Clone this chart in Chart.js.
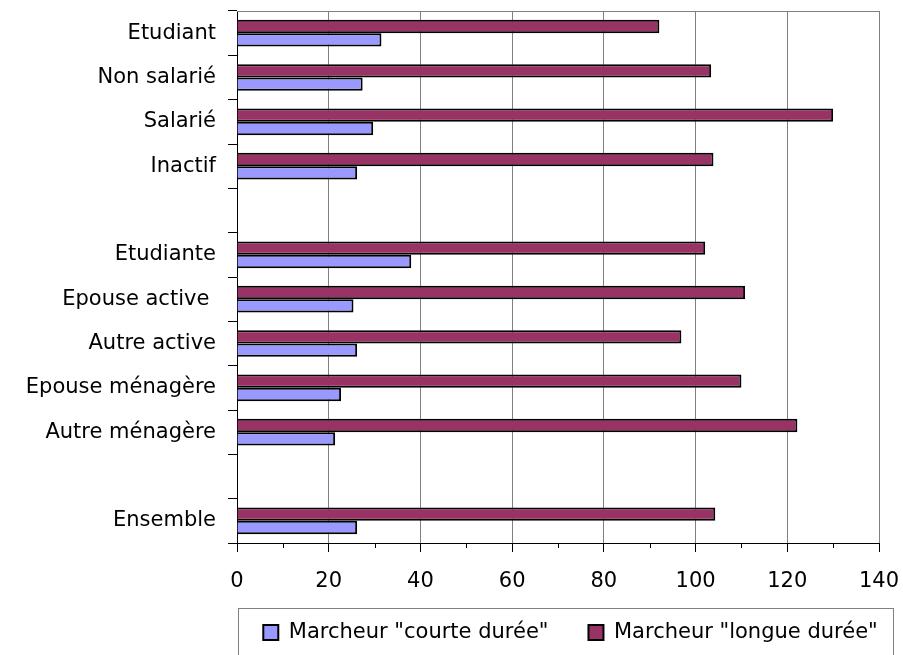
<!DOCTYPE html>
<html>
<head>
<meta charset="utf-8">
<script src="https://cdn.jsdelivr.net/npm/chart.js@4/dist/chart.umd.min.js"></script>
<style>
    body { margin: 0; background: #fff; }
    #wrap { width: 903px; height: 655px; position: relative; }
</style>
</head>
<body>
<div id="wrap"><canvas id="chart-area"></canvas></div>
<script>
var categories = ['Etudiant', 'Non salarié', 'Salarié', 'Inactif', '', 'Etudiante', 'Epouse active ', 'Autre active', 'Epouse ménagère', 'Autre ménagère', '', 'Ensemble'];
var courteDuree = [31.5, 27.4, 29.7, 26.2, null, 38.0, 25.4, 26.2, 22.7, 21.4, null, 26.2];
var longueDuree = [92.1, 103.4, 130.0, 103.9, null, 102.1, 110.8, 96.9, 110.0, 122.2, null, 104.3];
var xTicks = [0, 20, 40, 60, 80, 100, 120, 140];
var xMinorTicks = [10, 30, 50, 70, 90, 110, 130];

Chart.defaults.font.family = "'DejaVu Sans', sans-serif";
Chart.defaults.font.size = 21;
Chart.defaults.color = '#000';

// cadre gris du graphique, petites graduations + encadré de la légende
var framePlugin = {
    id: 'frame',
    afterLayout: function (chart) {
        var lg = chart.legend;
        var h = lg.height;
        lg.left = 211;
        lg.right = 930;
        lg.width = 719;
        lg.top = 582;
        lg.bottom = 582 + h;
    },
    beforeDatasetsDraw: function (chart) {
        var ctx = chart.ctx;
        var a = chart.chartArea;
        var xs = chart.scales.x;
        ctx.save();
        ctx.strokeStyle = '#808080';
        ctx.lineWidth = 1;
        ctx.beginPath();
        ctx.moveTo(a.left, a.top + 0.5);
        ctx.lineTo(a.right, a.top + 0.5);
        ctx.stroke();
        ctx.strokeStyle = '#000';
        ctx.beginPath();
        xMinorTicks.forEach(function (v) {
            var px = Math.round(xs.getPixelForValue(v)) + 0.5;
            ctx.moveTo(px, a.bottom);
            ctx.lineTo(px, a.bottom + 5);
        });
        ctx.stroke();
        ctx.restore();
    },
    afterDraw: function (chart) {
        var ctx = chart.ctx;
        ctx.save();
        ctx.strokeStyle = '#808080';
        ctx.lineWidth = 1;
        ctx.strokeRect(238.5, 608.5, 655, 60);
        ctx.restore();
    }
};

var config = {
    type: 'bar',
    data: {
        labels: categories,
        datasets: [{
                label: 'Marcheur "longue durée"',
                data: longueDuree,
                backgroundColor: '#993366',
                borderColor: '#000',
                borderWidth: 2,
                borderSkipped: 'start'
            }, {
                label: 'Marcheur "courte durée"',
                data: courteDuree,
                backgroundColor: '#9999ff',
                borderColor: '#000',
                borderWidth: 2,
                borderSkipped: 'start'
            }]
    },
    options: {
        indexAxis: 'y',
        responsive: true,
        maintainAspectRatio: false,
        animation: false,
        layout: {
            padding: {top: 11, right: 24, bottom: -19, left: 0}
        },
        datasets: {
            bar: {categoryPercentage: 0.6, barPercentage: 1.0}
        },
        scales: {
            x: {
                min: 0,
                max: 140,
                ticks: {
                    stepSize: 20,
                    autoSkip: false,
                    maxRotation: 0,
                    padding: 17,
                    font: {size: 21}
                },
                grid: {
                    color: function (c) {
                        if (!c.tick) return 'rgba(0,0,0,0)';
                        return c.tick.value > 0 ? '#808080' : 'rgba(0,0,0,0)';
                    },
                    tickColor: '#000',
                    tickLength: 9
                },
                border: {color: '#000', width: 1},
                afterFit: function (scale) {
                    scale.height = 60;
                    scale.paddingLeft = 0;
                    scale.paddingRight = 0;
                }
            },
            y: {
                ticks: {
                    autoSkip: false,
                    padding: 12,
                    font: {size: 21}
                },
                grid: {
                    offset: true,
                    drawOnChartArea: false,
                    tickColor: '#000',
                    tickLength: 9
                },
                border: {color: '#000', width: 1},
                afterFit: function (scale) {
                    scale.width = 237;
                    scale.paddingTop = 0;
                    scale.paddingBottom = 0;
                }
            }
        },
        plugins: {
            legend: {
                position: 'bottom',
                reverse: true,
                labels: {
                    boxWidth: 15,
                    boxHeight: 15,
                    padding: 40,
                    font: {size: 21},
                    color: '#000'
                }
            },
            tooltip: {enabled: false}
        }
    },
    plugins: [framePlugin]
};

var ctx = document.getElementById('chart-area').getContext('2d');
var myBar = new Chart(ctx, config);
</script>
</body>
</html>
